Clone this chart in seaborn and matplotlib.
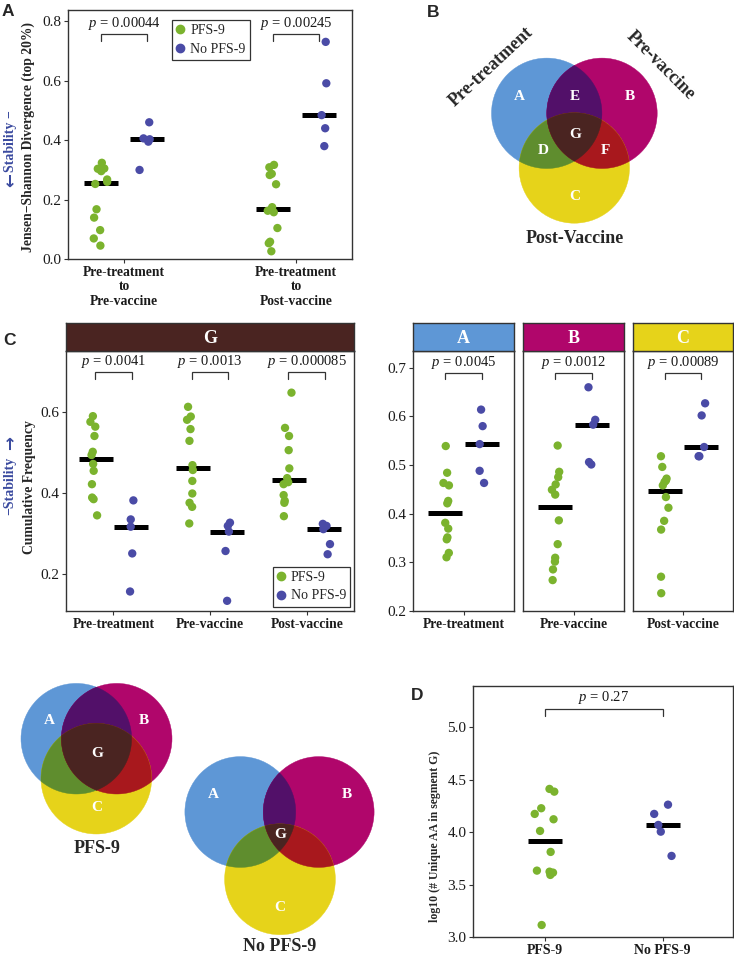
import numpy as np
import pandas as pd
import matplotlib
matplotlib.use("Agg")
import matplotlib.pyplot as plt
from matplotlib.patches import Circle, Polygon
from matplotlib.lines import Line2D
import seaborn as sns

# ------------------------------------------------------------------ data
groups = ["PFS-9", "No PFS-9"]

# Panel A : Jensen-Shannon divergence
a_stages = ["Pre-treatment\nto\nPre-vaccine", "Pre-treatment\nto\nPost-vaccine"]
a_prevac_pfs = [0.324, 0.305, 0.304, 0.296, 0.268, 0.260, 0.253, 0.168, 0.140, 0.098, 0.070, 0.046]
a_prevac_no = [0.460, 0.406, 0.403, 0.395, 0.300]
a_postvac_pfs = [0.317, 0.309, 0.287, 0.283, 0.252, 0.175, 0.163, 0.158, 0.105, 0.059, 0.054, 0.027]
a_postvac_no = [0.730, 0.591, 0.484, 0.440, 0.380]
a_pvals = ["0.00044", "0.00245"]

# Panel C : cumulative frequency per time point
c_stages = ["Pre-treatment", "Pre-vaccine", "Post-vaccine"]
g_pre_pfs = [0.589, 0.575, 0.563, 0.540, 0.501, 0.493, 0.471, 0.454, 0.421, 0.388, 0.384, 0.344]
g_pre_no = [0.381, 0.334, 0.316, 0.250, 0.156]
g_prevac_pfs = [0.612, 0.588, 0.580, 0.557, 0.528, 0.468, 0.456, 0.429, 0.398, 0.375, 0.365, 0.324]
g_prevac_no = [0.326, 0.318, 0.304, 0.256, 0.133]
g_post_pfs = [0.647, 0.560, 0.540, 0.505, 0.460, 0.436, 0.426, 0.421, 0.394, 0.380, 0.375, 0.342]
g_post_no = [0.323, 0.318, 0.310, 0.273, 0.248]
g_pvals = ["0.0041", "0.0013", "0.000085"]

segA_pfs = [0.539, 0.484, 0.463, 0.458, 0.426, 0.421, 0.381, 0.369, 0.351, 0.347, 0.319, 0.310]
segA_no = [0.614, 0.580, 0.543, 0.488, 0.463]
segB_pfs = [0.540, 0.486, 0.475, 0.460, 0.449, 0.439, 0.386, 0.337, 0.309, 0.301, 0.285, 0.263]
segB_no = [0.660, 0.593, 0.583, 0.506, 0.501]
segC_pfs = [0.518, 0.496, 0.472, 0.468, 0.465, 0.458, 0.434, 0.412, 0.385, 0.367, 0.270, 0.236]
segC_no = [0.627, 0.602, 0.537, 0.518, 0.518]
seg_names = ["A", "B", "C"]
seg_pvals = ["0.0045", "0.0012", "0.00089"]

# Panel D : log10 unique AA in segment G
d_pfs = [4.413, 4.387, 4.229, 4.175, 4.124, 4.013, 3.813, 3.635, 3.625, 3.616, 3.594, 3.117]
d_no = [4.263, 4.175, 4.070, 4.006, 3.775]
d_pval = "0.27"

# ------------------------------------------------------------------ style
GREEN = "#7BB32E"
BLUE = "#4A4BA6"
STAB = "#3A4A9F"
SEG_COL = {"A": "#5E97D6", "B": "#B0066B", "C": "#E6D31A", "G": "#4A2421"}
VENN = {"A": "#5E97D6", "B": "#B0066B", "C": "#E6D31A",
        "AB": "#521069", "AC": "#5F8D2E", "BC": "#A8181D", "ABC": "#4A2421"}
EDGE = "#333333"
TICK_FS = 11
P_FS = 10.5
DOT = 6.0

sns.set_style("white")
plt.rcParams["font.family"] = ["Liberation Serif", "DejaVu Serif"]
plt.rcParams["mathtext.fontset"] = "custom"
plt.rcParams["mathtext.rm"] = "Liberation Serif"
plt.rcParams["mathtext.it"] = "Liberation Serif:italic"
plt.rcParams["axes.edgecolor"] = EDGE
plt.rcParams["axes.linewidth"] = 1.0

W, H = 734, 960
fig = plt.figure(figsize=(W / 100, H / 100), dpi=100)


def rect(l, t, r, b):
    return [l / W, 1 - b / H, (r - l) / W, (b - t) / H]


def frame(ax, yt=True):
    for s in ax.spines.values():
        s.set_visible(True)
        s.set_color(EDGE)
        s.set_linewidth(1.0)
    ax.tick_params(axis="both", direction="out", length=3, width=0.8, color=EDGE,
                   labelsize=TICK_FS, labelcolor="#1a1a1a", pad=2,
                   bottom=True, left=yt)
    ax.set_xlabel("")
    ax.set_ylabel("")


def bracket(ax, x0, x1, ytop, yleg, ytxt, p):
    ax.plot([x0, x0, x1, x1], [yleg, ytop, ytop, yleg], color=EDGE, lw=0.9,
            solid_joinstyle="miter", clip_on=False)
    ax.text((x0 + x1) / 2, ytxt, r"$p$ = " + p, ha="center", va="center",
            fontsize=P_FS, color="#1a1a1a")


def long_df(items):
    rows = [(s, g, v) for s, g, vals in items for v in vals]
    return pd.DataFrame(rows, columns=["stage", "group", "value"])


pal = {"PFS-9": GREEN, "No PFS-9": BLUE, "gap": "white"}
black = {"PFS-9": "black", "No PFS-9": "black"}
MED = dict(marker="_", linestyle="none", markersize=25, markeredgewidth=3.6,
           estimator="median", errorbar=None, legend=False)
PT = dict(size=DOT, linewidth=0, legend=False, zorder=3)


def legend(ax, x, y):
    hs = [Line2D([], [], marker="o", ls="", color=c, ms=DOT) for c in (GREEN, BLUE)]
    lg = ax.legend(hs, groups, loc="upper left", bbox_to_anchor=(x / W, 1 - y / H),
                   bbox_transform=fig.transFigure, frameon=True, fancybox=False,
                   edgecolor=EDGE, framealpha=1, fontsize=10, handlelength=0.6,
                   handletextpad=0.4, borderpad=0.3, labelspacing=0.4,
                   borderaxespad=0)
    lg.get_frame().set_linewidth(0.9)


np.random.seed(3)

# ------------------------------------------------------------------ panel A
dfA = long_df([(a_stages[0], "PFS-9", a_prevac_pfs), (a_stages[0], "No PFS-9", a_prevac_no),
               (a_stages[1], "PFS-9", a_postvac_pfs), (a_stages[1], "No PFS-9", a_postvac_no)])
orderA = [a_stages[0], " ", a_stages[1]]
axA = fig.add_axes(rect(68, 10, 352, 259.3))
sns.pointplot(data=dfA, x="stage", y="value", hue="group", order=orderA,
              hue_order=groups, palette=black, dodge=0.5333, ax=axA, **MED)
sns.stripplot(data=dfA, x="stage", y="value", hue="group", order=orderA,
              hue_order=["PFS-9", "gap", "No PFS-9"], palette=pal, dodge=True,
              jitter=0.27, ax=axA, **PT)
frame(axA)
axA.set_xlim(-0.651, 2.651)
axA.set_ylim(0, 0.837)
axA.set_yticks([0, 0.2, 0.4, 0.6, 0.8])
axA.set_yticklabels(["0.0", "0.2", "0.4", "0.6", "0.8"])
axA.set_xticks([0, 2])
axA.set_xticklabels(a_stages, fontweight="bold", fontsize=9.8, linespacing=1.12)
for i, p in zip([0, 2], a_pvals):
    bracket(axA, i - 0.2667, i + 0.2667, 0.756, 0.733, 0.79, p)
legend(axA, 172, 20)

# ------------------------------------------------------------------ panel C (G)
dfG = long_df([(c_stages[0], "PFS-9", g_pre_pfs), (c_stages[0], "No PFS-9", g_pre_no),
               (c_stages[1], "PFS-9", g_prevac_pfs), (c_stages[1], "No PFS-9", g_prevac_no),
               (c_stages[2], "PFS-9", g_post_pfs), (c_stages[2], "No PFS-9", g_post_no)])
axG = fig.add_axes(rect(66, 350.7, 354, 610.7))
sns.pointplot(data=dfG, x="stage", y="value", hue="group", order=c_stages,
              hue_order=groups, palette=black, dodge=0.36, ax=axG, **MED)
sns.stripplot(data=dfG, x="stage", y="value", hue="group", order=c_stages,
              hue_order=groups, palette=pal, dodge=True, jitter=0.09, ax=axG, **PT)
frame(axG)
axG.set_xlim(-0.489, 2.489)
axG.set_ylim(0.1086, 0.7506)
axG.set_yticks([0.2, 0.4, 0.6])
axG.set_yticklabels(["0.2", "0.4", "0.6"])
axG.set_xticks(range(3))
axG.set_xticklabels(c_stages, fontweight="bold", fontsize=9.8)
for i, p in enumerate(g_pvals):
    bracket(axG, i - 0.19, i + 0.19, 0.697, 0.681, 0.723, p)
legend(axG, 272.7, 566.7)


def strip(l, r, name):
    ax = fig.add_axes(rect(l, 323.3, r, 350.5))
    ax.set_facecolor(SEG_COL[name])
    for s in ax.spines.values():
        s.set_visible(True)
        s.set_color(EDGE)
        s.set_linewidth(1.0)
    ax.set_xticks([])
    ax.set_yticks([])
    ax.text(0.5, 0.45, name, transform=ax.transAxes, ha="center", va="center",
            color="white", fontsize=13, fontweight="bold")


strip(66, 354, "G")

# ------------------------------------------------------------------ facets A, B, C
seg_data = {"A": (segA_pfs, segA_no), "B": (segB_pfs, segB_no), "C": (segC_pfs, segC_no)}
seg_x = {"A": (413.3, 514.3), "B": (523.3, 624), "C": (632.7, 733.3)}
for k, (name, stage, p) in enumerate(zip(seg_names, c_stages, seg_pvals)):
    pfs, no = seg_data[name]
    df = long_df([(stage, "PFS-9", pfs), (stage, "No PFS-9", no)])
    l, r = seg_x[name]
    ax = fig.add_axes(rect(l, 350.5, r, 610.7))
    sns.pointplot(data=df, x="stage", y="value", hue="group", hue_order=groups,
                  palette=black, dodge=0.4, ax=ax, **MED)
    sns.stripplot(data=df, x="stage", y="value", hue="group", hue_order=groups,
                  palette=pal, dodge=True, jitter=0.09, ax=ax, **PT)
    frame(ax, yt=(k == 0))
    ax.set_xlim(-0.549, 0.549)
    ax.set_ylim(0.2, 0.7357)
    ax.set_yticks([0.2, 0.3, 0.4, 0.5, 0.6, 0.7])
    if k == 0:
        ax.set_yticklabels(["0.2", "0.3", "0.4", "0.5", "0.6", "0.7"])
    else:
        ax.set_yticklabels([])
    ax.set_xticks([0])
    ax.set_xticklabels([stage], fontweight="bold", fontsize=9.8)
    bracket(ax, -0.2, 0.2, 0.690, 0.676, 0.712, p)
    strip(l, r, name)

# ------------------------------------------------------------------ panel D
dfD = long_df([("G", "PFS-9", d_pfs), ("G", "No PFS-9", d_no)])
axD = fig.add_axes(rect(473.3, 685.7, 732.7, 937.3))
sns.pointplot(data=dfD, x="group", y="value", order=groups, color="black",
              ax=axD, **MED)
sns.stripplot(data=dfD, x="group", y="value", hue="group", order=groups,
              hue_order=groups, palette=pal, jitter=0.1, ax=axD, **PT)
frame(axD)
axD.set_xlim(-0.609, 1.595)
axD.set_ylim(3.0, 5.396)
axD.set_yticks([3.0, 3.5, 4.0, 4.5, 5.0])
axD.set_yticklabels(["3.0", "3.5", "4.0", "4.5", "5.0"])
axD.set_xticks([0, 1])
axD.set_xticklabels(groups, fontweight="bold", fontsize=10)
bracket(axD, 0, 1, 5.171, 5.108, 5.279, d_pval)

# ------------------------------------------------------------------ axis titles
def ftxt(x, y, s, **kw):
    fig.text(x / W, 1 - y / H, s, ha="center", va="center", **kw)


ftxt(28, 137, "Jensen\u2212Shannon Divergence (top 20%)", rotation=90,
     fontsize=9.8, fontweight="bold")
ftxt(10.5, 141, "Stability \u2212", rotation=90, fontsize=10,
     fontweight="bold", color=STAB)
ftxt(10.5, 180, "\u2190", rotation=90, fontsize=12, fontweight="bold",
     color=STAB, family="DejaVu Sans")
ftxt(29.3, 486.7, "Cumulative Frequency", rotation=90, fontsize=9.8, fontweight="bold")
ftxt(10, 486, "\u2212Stability", rotation=90, fontsize=10,
     fontweight="bold", color=STAB)
ftxt(10, 443, "\u2192", rotation=90, fontsize=12, fontweight="bold",
     color=STAB, family="DejaVu Sans")
ftxt(435, 836, "log10 (# Unique AA in segment G)", rotation=90, fontsize=8.5,
     fontweight="bold")

for lab, x, y in [("A", 8.3, 11.7), ("B", 433, 12.5), ("C", 9.2, 340.5), ("D", 416.7, 695.5)]:
    ftxt(x, y, lab, fontsize=12.5, fontweight="bold", family="Liberation Sans")

# ------------------------------------------------------------------ Venn diagrams
axV = fig.add_axes([0, 0, 1, 1], zorder=-1)
axV.set_xlim(0, W)
axV.set_ylim(H, 0)
axV.axis("off")


def inter_poly(circles, n=1440):
    pts = []
    t = np.linspace(0, 2 * np.pi, n, endpoint=False)
    for cx, cy, r in circles:
        p = np.c_[cx + r * np.cos(t), cy + r * np.sin(t)]
        ok = np.ones(len(p), bool)
        for ox, oy, orr in circles:
            ok &= (p[:, 0] - ox) ** 2 + (p[:, 1] - oy) ** 2 <= orr ** 2 * (1 + 1e-7)
        pts.append(p[ok])
    pts = np.vstack(pts)
    c = pts.mean(0)
    ang = np.arctan2(pts[:, 1] - c[1], pts[:, 0] - c[0])
    return pts[np.argsort(ang)]


def venn(cA, cB, cC, labels):
    circ = {"A": cA, "B": cB, "C": cC}
    for k in "ABC":
        x, y, r = circ[k]
        axV.add_patch(Circle((x, y), r, facecolor=VENN[k], edgecolor=VENN[k], lw=0.3))
    for combo in ["AB", "AC", "BC", "ABC"]:
        poly = inter_poly([circ[c] for c in combo])
        axV.add_patch(Polygon(poly, closed=True, facecolor=VENN[combo],
                              edgecolor=VENN[combo], lw=0.3))
    for s, x, y in labels:
        axV.text(x, y, s, ha="center", va="center", color="white",
                 fontsize=11, fontweight="bold")


venn((546.7, 113.3, 55.2), (602.0, 113.3, 55.2), (574.3, 168.0, 55.2),
     [("A", 519.3, 96), ("E", 575, 96), ("B", 630, 96), ("G", 575, 134),
      ("D", 543.3, 150.7), ("F", 605, 150.7), ("C", 574.3, 196.7)])
axV.text(490.7, 66.7, "Pre-treatment", rotation=43, ha="center", va="center",
         fontsize=13, fontweight="bold")
axV.text(660.7, 65.7, "Pre-vaccine", rotation=-45, ha="center", va="center",
         fontsize=13, fontweight="bold")
axV.text(575, 238.3, "Post-Vaccine", ha="center", va="center", fontsize=13,
         fontweight="bold")

venn((76.3, 738.7, 55.3), (116.7, 738.7, 55.3), (96.3, 778.7, 55.3),
     [("A", 49.3, 721), ("B", 144, 721), ("G", 96.7, 753.3), ("C", 96.7, 807.7)])
axV.text(96.7, 848.3, "PFS-9", ha="center", va="center", fontsize=13, fontweight="bold")

venn((240.3, 812.0, 55.4), (318.7, 812.0, 55.4), (280.0, 879.3, 55.4),
     [("A", 213.3, 794), ("B", 346.7, 794), ("G", 280, 834.3), ("C", 280, 907.3)])
axV.text(280, 946.7, "No PFS-9", ha="center", va="center", fontsize=13, fontweight="bold")

fig.savefig("out.png", dpi=100)
